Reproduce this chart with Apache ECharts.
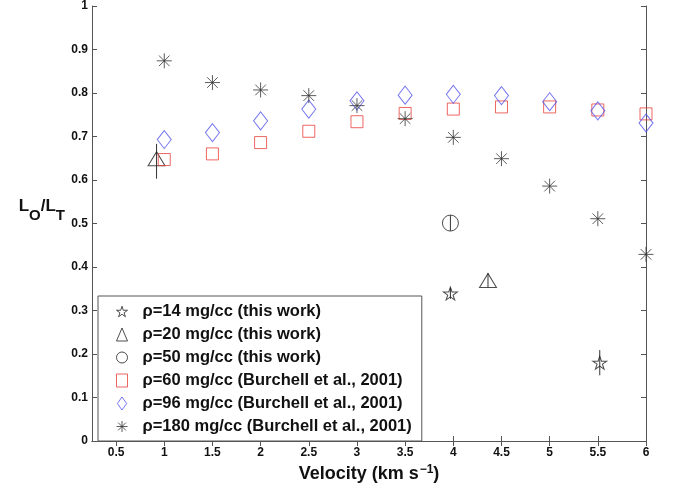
<!DOCTYPE html>
<html>
<head>
<meta charset="utf-8">
<script src="https://cdn.jsdelivr.net/npm/echarts@6/dist/echarts.min.js"></script>
<style>
  html, body { margin: 0; padding: 0; background: #fff; }
  #chart { width: 673px; height: 489px; }
</style>
</head>
<body>
<div id="chart"></div>
<script>
// velocities (km/s) of the Burchell et al. 2001 points
const velocity = [1, 1.5, 2, 2.5, 3, 3.5, 4, 4.5, 5, 5.5, 6];
const rho60 = [0.647, 0.660, 0.686, 0.712, 0.734, 0.753, 0.763, 0.768, 0.768, 0.761, 0.752];
const rho96 = [0.693, 0.709, 0.736, 0.763, 0.782, 0.795, 0.797, 0.794, 0.780, 0.759, 0.731];
const rho180 = [0.874, 0.824, 0.807, 0.794, 0.771, 0.741, 0.698, 0.649, 0.586, 0.511, 0.429];

// this work (with error bars)
const rho14X = [3.97, 5.52];
const rho14Y = [0.339, 0.180];
const rho14Lo = [0.327, 0.151];
const rho14Hi = [0.352, 0.209];
const rho20X = [0.92, 4.36];
const rho20Y = [0.649, 0.369];
const rho20Lo = [0.603, 0.353];
const rho20Hi = [0.683, 0.386];
const rho50X = [3.97];
const rho50Y = [0.501];
const rho50Lo = [0.483];
const rho50Hi = [0.519];

const xTicks = [0.5, 1, 1.5, 2, 2.5, 3, 3.5, 4, 4.5, 5, 5.5, 6];
const legendNames = [
  'ρ=14 mg/cc (this work)',
  'ρ=20 mg/cc (this work)',
  'ρ=50 mg/cc (this work)',
  'ρ=60 mg/cc (Burchell et al., 2001)',
  'ρ=96 mg/cc (Burchell et al., 2001)',
  'ρ=180 mg/cc (Burchell et al., 2001)'
];

const FONT = 'Liberation Sans, Arial, Helvetica, sans-serif';
const AXIS_COLOR = '#555';
const STAR = 'path://M0,-100L22.5,-30.9L95.1,-30.9L36.3,11.8L58.8,80.9L0,38.2L-58.8,80.9L-36.3,11.8L-95.1,-30.9L-22.5,-30.9Z';
const DIAMOND = 'path://M0,-70L50,0L0,70L-50,0Z';
const ASTERISK = 'path://M0,-10L0,10M-10,0L10,0M-7.07,-7.07L7.07,7.07M-7.07,7.07L7.07,-7.07';

const zip = (xs, ys) => xs.map((x, i) => [x, ys[i]]);
const errData = (xs, lo, hi) => xs.map((x, i) => [x, lo[i], hi[i]]);

const hollow = (stroke) => ({ color: 'rgba(0,0,0,0)', borderColor: stroke, borderWidth: 1 });

const errorBars = (data) => ({
  type: 'custom',
  name: 'err',
  data: data,
  encode: { x: 0, y: [1, 2] },
  z: 1,
  silent: true,
  renderItem: function (params, api) {
    const lo = api.coord([api.value(0), api.value(1)]);
    const hi = api.coord([api.value(0), api.value(2)]);
    return {
      type: 'line',
      shape: { x1: lo[0], y1: lo[1], x2: hi[0], y2: hi[1] },
      style: { stroke: '#333', lineWidth: 1 }
    };
  }
});

const chart = echarts.init(document.getElementById('chart'));
chart.setOption({
  animation: false,
  textStyle: { fontFamily: FONT },
  grid: { left: 92, right: 27, top: 5, bottom: 48 },
  legend: {
    data: legendNames,
    orient: 'vertical',
    left: 98,
    top: 296,
    padding: [7, 10, 6, 18],
    itemWidth: 11,
    itemHeight: 13,
    itemGap: 6,
    selectedMode: false,
    borderColor: AXIS_COLOR,
    borderWidth: 1,
    backgroundColor: '#fff',
    itemStyle: { borderWidth: 1 },
    textStyle: {
      fontFamily: FONT,
      fontSize: 16.5,
      fontWeight: 'bold',
      color: '#111',
      lineHeight: 16,
      padding: [0, 0, 0, 10]
    }
  },
  xAxis: [{
    type: 'value',
    min: 0.25,
    max: 6,
    name: 'Velocity (km s{sup|−1}{b|)}',
    nameLocation: 'middle',
    nameGap: 22,
    nameTextStyle: {
      fontSize: 18,
      fontWeight: 'bold',
      color: '#111',
      verticalAlign: 'top',
      rich: {
        sup: { fontSize: 12, fontWeight: 'bold', color: '#111', padding: [0, 0, 9, 1], verticalAlign: 'bottom' },
        b: { fontSize: 18, fontWeight: 'bold', color: '#111' }
      }
    },
    axisLine: { lineStyle: { color: AXIS_COLOR } },
    axisTick: { inside: true, length: 5, customValues: xTicks, lineStyle: { color: AXIS_COLOR } },
    axisLabel: { customValues: xTicks, margin: 6, fontSize: 12, fontWeight: 'bold', color: '#111' },
    splitLine: { show: false }
  }, {
    type: 'value',
    position: 'top',
    min: 0.25,
    max: 6,
    axisLine: { lineStyle: { color: AXIS_COLOR } },
    axisTick: { inside: true, length: 5, customValues: xTicks, lineStyle: { color: AXIS_COLOR } },
    axisLabel: { show: false },
    splitLine: { show: false }
  }],
  yAxis: [{
    type: 'value',
    min: 0,
    max: 1,
    interval: 0.1,
    name: '{L|L}{s|O}{L|/L}{s|T}',
    nameLocation: 'middle',
    nameRotate: 0,
    nameGap: 27,
    nameTextStyle: {
      padding: [0, 0, 26, 0],
      rich: {
        L: { fontSize: 17, fontWeight: 'bold', color: '#111', verticalAlign: 'top' },
        s: { fontSize: 15, fontWeight: 'bold', color: '#111', padding: [10, 0, 0, 0], verticalAlign: 'bottom' }
      }
    },
    axisLine: { lineStyle: { color: AXIS_COLOR } },
    axisTick: { inside: true, length: 5, lineStyle: { color: AXIS_COLOR } },
    axisLabel: { margin: 4, fontSize: 12, fontWeight: 'bold', color: '#111' },
    splitLine: { show: false }
  }, {
    type: 'value',
    position: 'right',
    min: 0,
    max: 1,
    interval: 0.1,
    axisLine: { lineStyle: { color: AXIS_COLOR } },
    axisTick: { inside: true, length: 5, lineStyle: { color: AXIS_COLOR } },
    axisLabel: { show: false },
    splitLine: { show: false }
  }],
  series: [
    errorBars(errData(rho14X, rho14Lo, rho14Hi)),
    errorBars(errData(rho20X, rho20Lo, rho20Hi)),
    errorBars(errData(rho50X, rho50Lo, rho50Hi)),
    {
      name: legendNames[0], type: 'scatter', data: zip(rho14X, rho14Y),
      symbol: STAR, symbolSize: [14, 13], itemStyle: hollow('#222'), z: 3
    },
    {
      name: legendNames[1], type: 'scatter', data: zip(rho20X, rho20Y),
      symbol: 'triangle', symbolSize: [17, 14], itemStyle: hollow('#222'), z: 3
    },
    {
      name: legendNames[2], type: 'scatter', data: zip(rho50X, rho50Y),
      symbol: 'circle', symbolSize: 16, itemStyle: hollow('#222'), z: 3
    },
    {
      name: legendNames[3], type: 'scatter', data: zip(velocity, rho60),
      symbol: 'rect', symbolSize: 12, itemStyle: hollow('#e8403a'), z: 3
    },
    {
      name: legendNames[4], type: 'scatter', data: zip(velocity, rho96),
      symbol: DIAMOND, symbolSize: [14, 18], itemStyle: hollow('#5252ee'), z: 3
    },
    {
      name: legendNames[5], type: 'scatter', data: zip(velocity, rho180),
      symbol: ASTERISK, symbolSize: 15, itemStyle: hollow('#333'), z: 3
    }
  ]
});
</script>
</body>
</html>
